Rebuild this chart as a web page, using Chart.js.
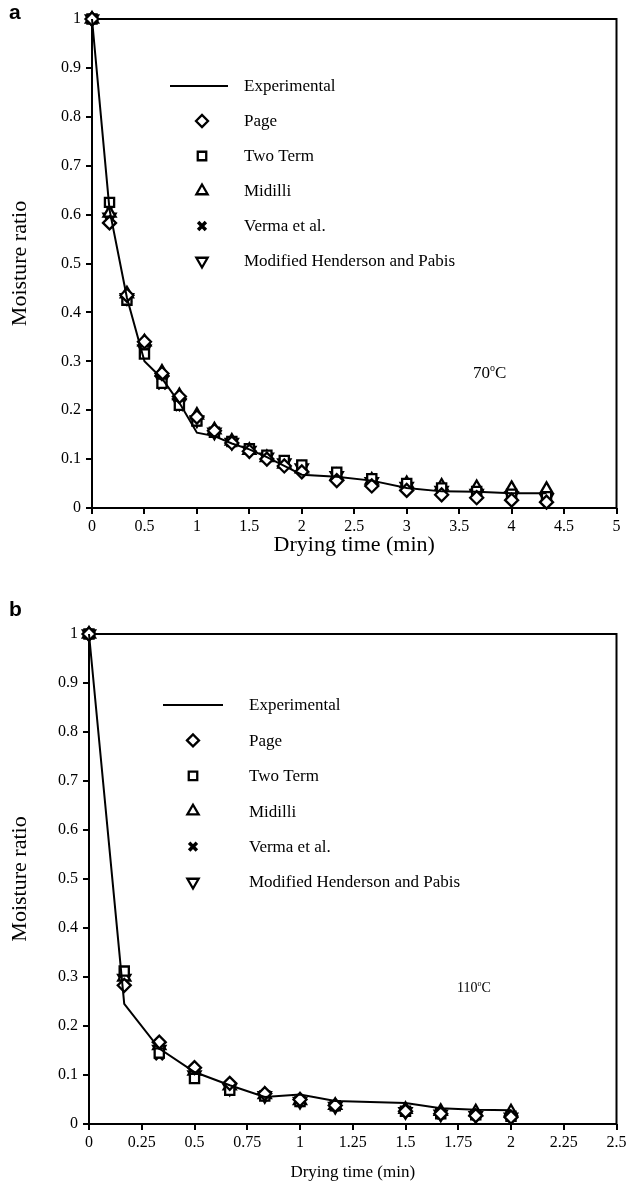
<!DOCTYPE html>
<html>
<head>
<meta charset="utf-8">
<script src="https://cdn.jsdelivr.net/npm/chart.js@4.4.0/dist/chart.umd.min.js"></script>
<style>
html, body { margin: 0; padding: 0; background: #fff; }
body { width: 626px; height: 1185px; position: relative; overflow: hidden; }
.panel { position: absolute; left: 0; width: 626px; }
.tag { position: absolute; left: 9px; font: bold 21px "Liberation Sans", Arial, sans-serif; line-height: 24px; }
</style>
</head>
<body>
<div class="panel" style="top:0;height:590px"><canvas id="chartA"></canvas></div>
<div class="panel" style="top:590px;height:595px"><canvas id="chartB"></canvas></div>
<div class="tag" style="top:0px">a</div>
<div class="tag" style="top:597px">b</div>
<script>
// panel a, 70 C
const timeA = [0, 0.167, 0.333, 0.5, 0.667, 0.833, 1.0, 1.167, 1.333, 1.5, 1.667, 1.833, 2.0, 2.333, 2.667, 3.0, 3.333, 3.667, 4.0, 4.333];
const expA   = [1.0, 0.610, 0.430, 0.300, 0.265, 0.215, 0.154, 0.147, 0.132, 0.120, 0.104, 0.086, 0.068, 0.064, 0.056, 0.041, 0.034, 0.033, 0.030, 0.030];
const pageA  = [1.0, 0.583, 0.435, 0.340, 0.275, 0.228, 0.186, 0.158, 0.133, 0.116, 0.100, 0.086, 0.074, 0.056, 0.045, 0.036, 0.027, 0.021, 0.016, 0.012];
const twoA   = [1.0, 0.625, 0.425, 0.315, 0.255, 0.210, 0.178, 0.155, 0.136, 0.121, 0.108, 0.097, 0.088, 0.073, 0.060, 0.050, 0.041, 0.034, 0.028, 0.023];
const midA   = [1.0, 0.603, 0.438, 0.340, 0.278, 0.230, 0.190, 0.160, 0.137, 0.118, 0.103, 0.090, 0.080, 0.066, 0.057, 0.050, 0.045, 0.042, 0.040, 0.038];
const vermaA = [1.0, 0.623, 0.428, 0.318, 0.252, 0.208, 0.177, 0.155, 0.135, 0.120, 0.107, 0.096, 0.087, 0.072, 0.059, 0.048, 0.039, 0.032, 0.026, 0.021];
const mhpA   = [1.0, 0.595, 0.430, 0.325, 0.262, 0.215, 0.180, 0.155, 0.134, 0.118, 0.104, 0.092, 0.082, 0.066, 0.054, 0.044, 0.036, 0.030, 0.025, 0.020];

// panel b, 110 C
const timeB = [0, 0.167, 0.333, 0.5, 0.667, 0.833, 1.0, 1.167, 1.5, 1.667, 1.833, 2.0];
const expB   = [1.0, 0.245, 0.154, 0.106, 0.079, 0.055, 0.060, 0.047, 0.043, 0.032, 0.029, 0.028];
const pageB  = [1.0, 0.283, 0.167, 0.115, 0.083, 0.062, 0.050, 0.038, 0.026, 0.021, 0.017, 0.014];
const twoB   = [1.0, 0.312, 0.145, 0.093, 0.069, 0.057, 0.046, 0.037, 0.026, 0.021, 0.019, 0.016];
const midB   = [1.0, 0.300, 0.160, 0.108, 0.078, 0.060, 0.048, 0.038, 0.030, 0.026, 0.025, 0.025];
const vermaB = [1.0, 0.310, 0.140, 0.095, 0.070, 0.057, 0.045, 0.036, 0.026, 0.020, 0.018, 0.015];
const mhpB   = [1.0, 0.297, 0.152, 0.100, 0.073, 0.058, 0.046, 0.036, 0.025, 0.020, 0.017, 0.014];

const seriesNames = ['Experimental', 'Page', 'Two Term', 'Midilli', 'Verma et al.', 'Modified Henderson and Pabis'];

const yTicks = [0, 0.1, 0.2, 0.3, 0.4, 0.5, 0.6, 0.7, 0.8, 0.9, 1];
const yLabels = ['0', '0.1', '0.2', '0.3', '0.4', '0.5', '0.6', '0.7', '0.8', '0.9', '1'];
const xTicksA = [0, 0.5, 1, 1.5, 2, 2.5, 3, 3.5, 4, 4.5, 5];
const xLabelsA = ['0', '0.5', '1', '1.5', '2', '2.5', '3', '3.5', '4', '4.5', '5'];
const xTicksB = [0, 0.25, 0.5, 0.75, 1, 1.25, 1.5, 1.75, 2, 2.25, 2.5];
const xLabelsB = ['0', '0.25', '0.5', '0.75', '1', '1.25', '1.5', '1.75', '2', '2.25', '2.5'];

Chart.defaults.font.family = '"Liberation Serif", "Times New Roman", serif';
Chart.defaults.color = '#000';

const markerLook = [
  null,
  { pointStyle: 'rectRot', rotation: 0, radius: 6.5, borderWidth: 2.3 },
  { pointStyle: 'rect', rotation: 0, radius: 6.5, borderWidth: 2.3 },
  { pointStyle: 'triangle', rotation: 0, radius: 7, borderWidth: 2.3 },
  { pointStyle: 'crossRot', rotation: 0, radius: 6, borderWidth: 3.5 },
  { pointStyle: 'triangle', rotation: 180, radius: 7, borderWidth: 2.3 }
];

function pairs(xs, ys) {
  return xs.map((x, i) => ({ x: x, y: ys[i] }));
}

function buildDatasets(xs, lists) {
  return lists.map((ys, k) => {
    if (k === 0) {
      return {
        label: seriesNames[0], type: 'line', data: pairs(xs, ys),
        borderColor: '#000', borderWidth: 2, pointRadius: 0, tension: 0,
        showLine: true, fill: false, clip: false, order: 0
      };
    }
    const m = markerLook[k];
    return {
      label: seriesNames[k], data: pairs(xs, ys),
      pointStyle: m.pointStyle, pointRotation: m.rotation, pointRadius: m.radius,
      pointBorderWidth: m.borderWidth, pointBorderColor: '#000', pointBackgroundColor: '#fff',
      showLine: false, clip: false, order: 1
    };
  });
}

function drawMarker(ctx, m, x, y) {
  ctx.save();
  ctx.strokeStyle = '#000';
  ctx.fillStyle = '#fff';
  ctx.lineWidth = m.borderWidth;
  Chart.helpers.drawPoint(ctx, { pointStyle: m.pointStyle, rotation: m.rotation, radius: m.radius - 0.5, borderWidth: m.borderWidth }, x, y);
  ctx.restore();
}

const decor = {
  id: 'decor',
  beforeDatasetsDraw(chart) {
    const { ctx, chartArea: a } = chart;
    ctx.save();
    ctx.strokeStyle = '#000';
    ctx.lineWidth = 2;
    ctx.strokeRect(a.left, a.top, a.right - a.left, a.bottom - a.top);
    ctx.restore();
  },
  afterDraw(chart, args, opts) {
    const ctx = chart.ctx;
    const lg = opts.legend;
    ctx.save();
    ctx.font = '17px "Liberation Serif", "Times New Roman", serif';
    ctx.fillStyle = '#000';
    ctx.textBaseline = 'middle';
    seriesNames.forEach((name, k) => {
      const y = lg.top + k * lg.step;
      if (k === 0) {
        ctx.strokeStyle = '#000';
        ctx.lineWidth = 2;
        ctx.beginPath();
        ctx.moveTo(lg.lineFrom, y);
        ctx.lineTo(lg.lineTo, y);
        ctx.stroke();
      } else {
        drawMarker(ctx, markerLook[k], lg.markX, y);
      }
      ctx.fillStyle = '#000';
      ctx.fillText(name, lg.textX, y + 1);
    });
    // temperature note
    const n = opts.note;
    ctx.font = n.size + 'px "Liberation Serif", "Times New Roman", serif';
    ctx.textBaseline = 'alphabetic';
    let x = n.x;
    ctx.fillText(n.num, x, n.y);
    x += ctx.measureText(n.num).width;
    ctx.font = Math.round(n.size * 0.6) + 'px "Liberation Serif", "Times New Roman", serif';
    ctx.fillText('o', x, n.y - n.size * 0.4);
    x += ctx.measureText('o').width;
    ctx.font = n.size + 'px "Liberation Serif", "Times New Roman", serif';
    ctx.fillText('C', x, n.y);
    ctx.restore();
  }
};

function scales(xMax, xTicks, xLabels, yWidth, xHeight, xTitleSize, xTitlePad) {
  return {
    x: {
      type: 'linear', min: 0, max: xMax,
      afterBuildTicks: s => { s.ticks = xTicks.map(v => ({ value: v })); },
      afterFit: s => { s.height = xHeight; s.paddingLeft = 0; s.paddingRight = 0; },
      ticks: { callback: (v, i) => xLabels[i], font: { size: 16 }, padding: 3, maxRotation: 0, autoSkip: false },
      grid: { display: true, drawOnChartArea: false, drawTicks: true, tickLength: 6, color: '#000', lineWidth: 2 },
      border: { display: false },
      title: { display: true, text: 'Drying time (min)', font: { size: xTitleSize }, padding: { top: 0, bottom: xTitlePad } }
    },
    y: {
      type: 'linear', min: 0, max: 1,
      afterBuildTicks: s => { s.ticks = yTicks.map(v => ({ value: v })); },
      afterFit: s => { s.width = yWidth; s.paddingTop = 0; s.paddingBottom = 0; },
      ticks: { callback: (v, i) => yLabels[i], font: { size: 16 }, padding: 5, autoSkip: false },
      grid: { display: true, drawOnChartArea: false, drawTicks: true, tickLength: 6, color: '#000', lineWidth: 2 },
      border: { display: false },
      title: { display: true, text: 'Moisture ratio', font: { size: 22 }, padding: { top: 7, bottom: 0 } }
    }
  };
}

new Chart(document.getElementById('chartA').getContext('2d'), {
  type: 'scatter',
  data: { datasets: buildDatasets(timeA, [expA, pageA, twoA, midA, vermaA, mhpA]) },
  options: {
    responsive: true, maintainAspectRatio: false, animation: false,
    layout: { padding: { left: 0, top: 19, right: 8, bottom: 0 } },
    scales: scales(5, xTicksA, xLabelsA, 92, 82, 22, 32),
    plugins: {
      legend: { display: false }, tooltip: { enabled: false },
      decor: {
        legend: { top: 86, step: 35, lineFrom: 170, lineTo: 228, markX: 202, textX: 244 },
        note: { num: '70', x: 473, y: 378, size: 17 }
      }
    }
  },
  plugins: [decor]
});

new Chart(document.getElementById('chartB').getContext('2d'), {
  type: 'scatter',
  data: { datasets: buildDatasets(timeB, [expB, pageB, twoB, midB, vermaB, mhpB]) },
  options: {
    responsive: true, maintainAspectRatio: false, animation: false,
    layout: { padding: { left: 0, top: 44, right: 8, bottom: 0 } },
    scales: scales(2.5, xTicksB, xLabelsB, 89, 61, 17, 2),
    plugins: {
      legend: { display: false }, tooltip: { enabled: false },
      decor: {
        legend: { top: 115, step: 35.4, lineFrom: 163, lineTo: 223, markX: 193, textX: 249 },
        note: { num: '110', x: 457, y: 402, size: 14 }
      }
    }
  },
  plugins: [decor]
});
</script>
</body>
</html>
